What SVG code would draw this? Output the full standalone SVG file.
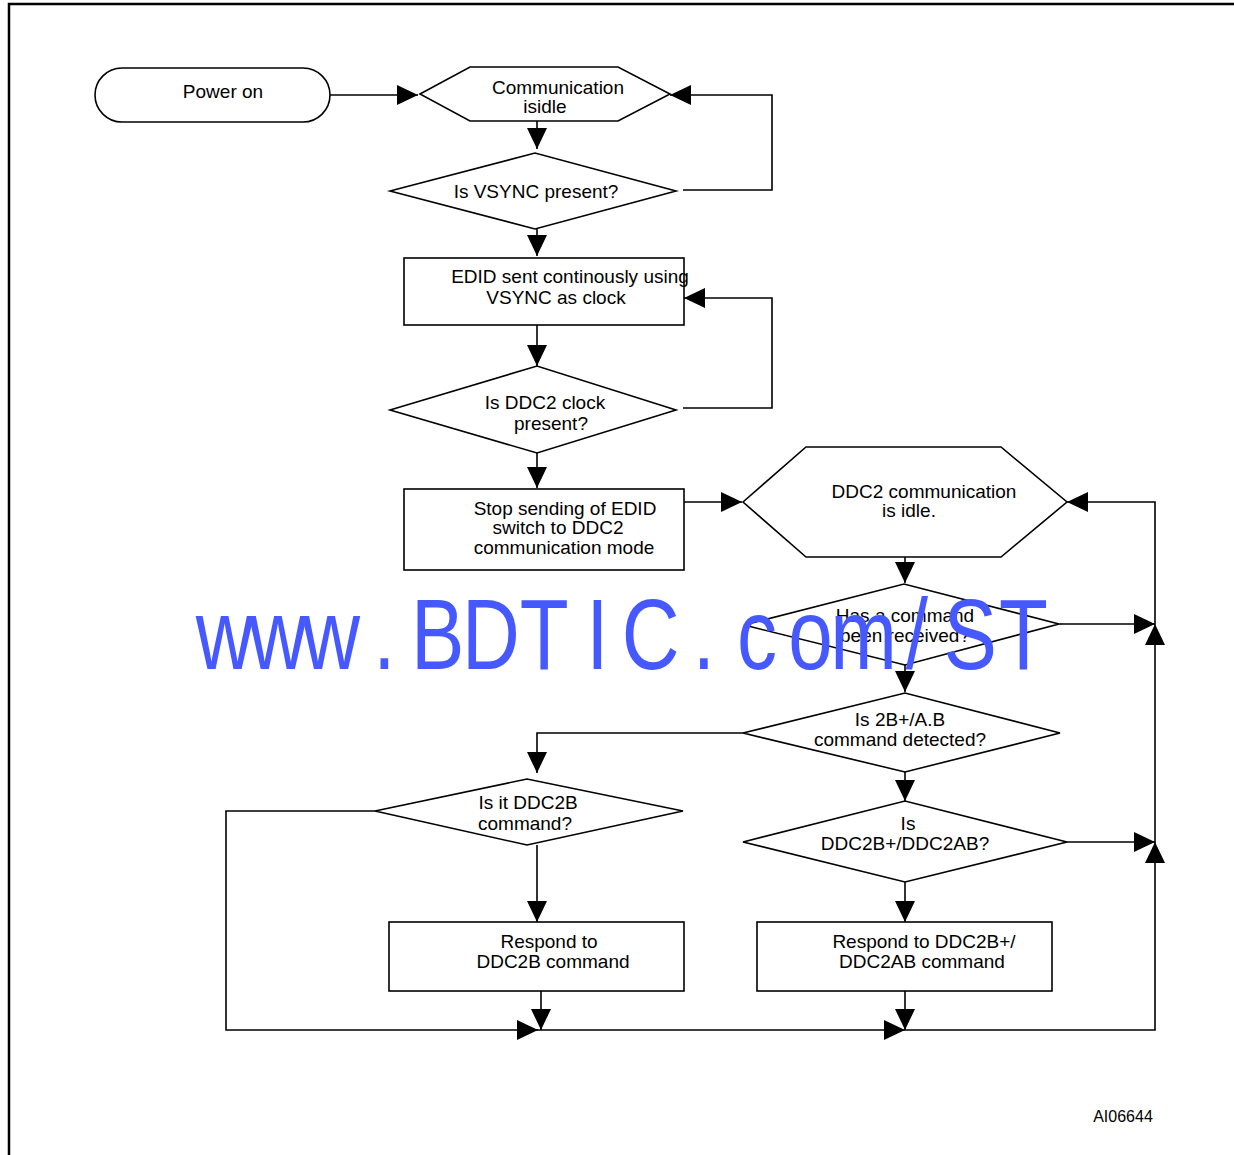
<svg xmlns="http://www.w3.org/2000/svg" width="1234" height="1155" viewBox="0 0 1234 1155">
<defs>
<marker id="ah" markerUnits="userSpaceOnUse" markerWidth="22" markerHeight="22" refX="21" refY="10" orient="auto" viewBox="0 0 22 20">
<path d="M0,0 L21,10 L0,20 z" fill="#000"/>
</marker>
</defs>
<style>
.s{fill:#fff;stroke:#000;stroke-width:1.6}
.c{fill:none;stroke:#000;stroke-width:1.6;marker-end:url(#ah)}
.l{fill:none;stroke:#000;stroke-width:1.6}
text{font-family:"Liberation Sans",Arial,sans-serif;font-size:19px;fill:#000;text-anchor:middle}
.wm{font-family:"Liberation Sans",Arial,sans-serif;font-size:100px;fill:#4658FF;text-anchor:middle}
</style>
<rect width="1234" height="1155" fill="#fff"/>
<path d="M9,1155 V4 H1234" fill="none" stroke="#000" stroke-width="2.5"/>

<g id="connectors">
<path class="c" d="M330,95 H418"/>
<path class="c" d="M772,190 M683,190 H772 V95 H670"/>
<path class="c" d="M537,121 V149"/>
<path class="c" d="M537,229 V256"/>
<path class="c" d="M683,408 H772 V298 H684"/>
<path class="c" d="M537,325 V366"/>
<path class="c" d="M537,453 V488"/>
<path class="c" d="M684,502 H742"/>
<path class="c" d="M905,557 V583"/>
<path class="c" d="M1060,624 H1155"/>
<path class="c" d="M905,665 V692"/>
<path class="c" d="M743,733 H537 V773"/>
<path class="c" d="M905,772 V801"/>
<path class="c" d="M1067,842 H1155"/>
<path class="c" d="M905,882 V922"/>
<path class="c" d="M537,845 V922"/>
<path class="c" d="M375,811 H226 V1030 H538"/>
<path class="c" d="M541,991 V1030"/>
<path class="c" d="M537,1030 H905"/>
<path class="c" d="M905,991 V1030"/>
<path class="c" d="M905,1030 H1155 V842"/>
<path class="c" d="M1155,842 V624"/>
<path class="c" d="M1155,624 V502 H1067"/>
</g>

<g id="power-on">
<rect class="s" x="95" y="68" width="235" height="54" rx="27" ry="27"/>
<text x="223" y="98">Power on</text>
</g>
<g id="comm-idle">
<path class="s" d="M420,94 L470,67 H618 L670,94 L618,121 H470 Z"/>
<text x="558" y="94">Communication</text>
<text x="545" y="113">isidle</text>
</g>
<g id="vsync-present">
<path class="s" d="M390,191 L535,153 L676,191 L535,229 Z"/>
<text x="536" y="198">Is VSYNC present?</text>
</g>
<g id="edid-sent">
<rect class="s" x="404" y="258" width="280" height="67"/>
<text x="570" y="283">EDID sent continously using</text>
<text x="556" y="304">VSYNC as clock</text>
</g>
<g id="ddc2-clock">
<path class="s" d="M390,410 L537,366 L676,410 L537,453 Z"/>
<text x="545" y="409">Is DDC2 clock</text>
<text x="551" y="430">present?</text>
</g>
<g id="stop-sending">
<rect class="s" x="404" y="489" width="280" height="81"/>
<text x="565" y="515">Stop sending of EDID</text>
<text x="558" y="534">switch to DDC2</text>
<text x="564" y="554">communication mode</text>
</g>
<g id="ddc2-idle">
<path class="s" d="M743,502 L806,447 H1001 L1067,502 L1001,557 H806 Z"/>
<text x="924" y="498">DDC2 communication</text>
<text x="909" y="517">is idle.</text>
</g>
<g id="cmd-received">
<path class="s" d="M744,625 L904,584 L1059,624 L905,665 Z"/>
<text x="905" y="622">Has a command</text>
<text x="905" y="642">been received?</text>
</g>
<g id="cmd-detected">
<path class="s" d="M743,733 L905,693 L1060,733 L905,772 Z"/>
<text x="900" y="726">Is 2B+/A.B</text>
<text x="900" y="746">command detected?</text>
</g>
<g id="is-ddc2b">
<path class="s" d="M375,811 L527,779 L683,811 L527,845 Z"/>
<text x="528" y="809">Is it DDC2B</text>
<text x="525" y="830">command?</text>
</g>
<g id="is-ddc2bplus">
<path class="s" d="M743,842 L905,801 L1067,842 L905,882 Z"/>
<text x="908" y="830">Is</text>
<text x="905" y="850">DDC2B+/DDC2AB?</text>
</g>
<g id="respond-ddc2b">
<rect class="s" x="389" y="922" width="295" height="69"/>
<text x="549" y="948">Respond to</text>
<text x="553" y="968">DDC2B command</text>
</g>
<g id="respond-ddc2bplus">
<rect class="s" x="757" y="922" width="295" height="69"/>
<text x="924" y="948">Respond to DDC2B+/</text>
<text x="922" y="968">DDC2AB command</text>
</g>

<text x="1123" y="1122" style="font-size:16px">AI06644</text>

<text class="wm" transform="translate(0,669) scale(0.8,1)" x="280.75 347.4 413.9 480.5 547 613.6 680.1 746.75 813.25 879.9 946.4 1013 1079.5 1146.1 1212.6 1279.25" y="0">www.BDTIC.com/ST</text>
</svg>
